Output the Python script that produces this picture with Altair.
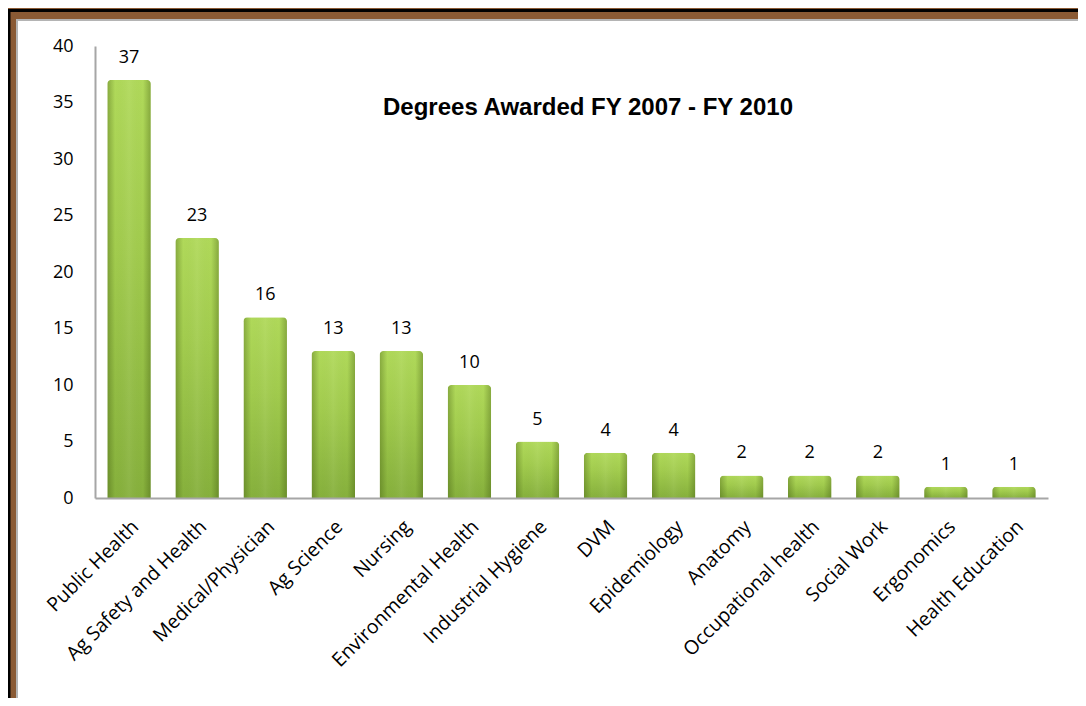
import altair as alt
import pandas as pd

categories = ["Public Health", "Ag Safety and Health", "Medical/Physician", "Ag Science",
              "Nursing", "Environmental Health", "Industrial Hygiene", "DVM", "Epidemiology",
              "Anatomy", "Occupational health", "Social Work", "Ergonomics", "Health Education"]
values = [37, 23, 16, 13, 13, 10, 5, 4, 4, 2, 2, 2, 1, 1]
title_text = "Degrees Awarded FY 2007 - FY 2010"

df = pd.DataFrame({"cat": categories, "val": values})

W, H = 953, 452
FONT = "Open Sans"

x_enc = alt.X("cat:N", sort=None, title=None,
              scale=alt.Scale(paddingInner=0.36, paddingOuter=0.18),
              axis=alt.Axis(labelAngle=-45, labelFontSize=19.5, labelFont=FONT, labelColor="#000",
                            ticks=False, domainColor="#a6a6a6", domainWidth=2, labelPadding=19,
                            labelLimit=300, zindex=1))
y_enc = alt.Y("val:Q", title=None,
              scale=alt.Scale(domain=[0, 40]),
              axis=alt.Axis(values=list(range(0, 41, 5)), labelFontSize=18, labelFont=FONT,
                            labelColor="#000", ticks=False, grid=False, domainColor="#a6a6a6",
                            domainWidth=2, labelPadding=22, zindex=1))

frame_df = pd.DataFrame({"k": [0]})
black_frame = alt.Chart(frame_df).mark_rect(fill=None, stroke="#000", strokeWidth=3).encode(
    x=alt.value(-86), x2=alt.value(1100), y=alt.value(-35.5), y2=alt.value(900))
white_panel = alt.Chart(frame_df).mark_rect(fill="#ffffff", stroke="#b4b4b4", strokeWidth=2).encode(
    x=alt.value(-78), x2=alt.value(1100), y=alt.value(-26), y2=alt.value(900))

vgrad = alt.LinearGradient(gradient="linear", x1=0, x2=0, y1=0, y2=1,
                           stops=[alt.GradientStop(color="#b0d95a", offset=0),
                                  alt.GradientStop(color="#a2cc4e", offset=0.4),
                                  alt.GradientStop(color="#86b03c", offset=1)])
hgrad = alt.LinearGradient(gradient="linear", x1=0, x2=1, y1=0, y2=0,
                           stops=[alt.GradientStop(color="rgba(40,60,0,0.30)", offset=0),
                                  alt.GradientStop(color="rgba(40,60,0,0.0)", offset=0.18),
                                  alt.GradientStop(color="rgba(255,255,255,0.06)", offset=0.5),
                                  alt.GradientStop(color="rgba(40,60,0,0.0)", offset=0.82),
                                  alt.GradientStop(color="rgba(40,60,0,0.30)", offset=1)])

bars = alt.Chart(df).mark_bar(color=vgrad, cornerRadiusTopLeft=4, cornerRadiusTopRight=4).encode(
    x=x_enc, y=y_enc)
bars_shade = alt.Chart(df).mark_bar(color=hgrad, cornerRadiusTopLeft=4, cornerRadiusTopRight=4).encode(
    x=alt.X("cat:N", sort=None), y="val:Q")

labels = alt.Chart(df).mark_text(dy=-22, fontSize=18, font=FONT, color="#000").encode(
    x=alt.X("cat:N", sort=None), y="val:Q", text="val:Q")

title = alt.Chart(frame_df).mark_text(text=title_text, font="Liberation Sans", fontWeight="bold",
                                      fontSize=24, color="#000").encode(
    x=alt.value(493), y=alt.value(62))

chart = alt.layer(white_panel, black_frame, bars, bars_shade, labels, title).properties(
    width=W, height=H,
    autosize=alt.AutoSizeParams(type="none"),
    padding={"left": 87, "top": 38, "right": 30, "bottom": 200},
    background="#8a5a34",
).configure_view(stroke=None)

chart.save("out.html", embed_options={"renderer": "svg", "actions": False})
